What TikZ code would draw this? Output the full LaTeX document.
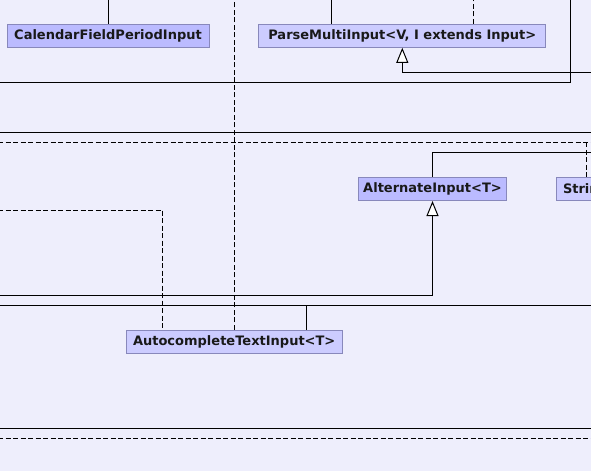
\documentclass[tikz,border=0pt]{standalone}
\usepackage{fontspec}
\setmainfont{DejaVu Sans}
\usetikzlibrary{arrows.meta}
\definecolor{bgc}{RGB}{238,238,252}
\definecolor{boxdark}{RGB}{187,187,255}
\definecolor{boxlight}{RGB}{204,204,255}
\definecolor{boxline}{RGB}{136,136,187}
\tikzset{
  cls/.style={draw=boxline, line width=1pt, minimum height=23pt, inner sep=0pt,
    font=\fontsize{13}{15}\selectfont\bfseries, text=black!90},
  dk/.style={cls, fill=boxdark},
  lt/.style={cls, fill=boxlight},
  conn/.style={line width=1pt, black},
  dconn/.style={line width=1pt, black, dash pattern=on 5pt off 2.5pt},
  inh/.style={conn, -{Triangle[fill=white, length=15pt, width=12pt, line width=1pt]}}
}
\begin{document}
\begin{tikzpicture}[x=1pt,y=-1pt]
\fill[bgc] (0,0) rectangle (591,471);
\useasboundingbox (0,0) rectangle (591,471);
\begin{scope}
\clip (0,0) rectangle (591,471);
% boxes
\node[dk, minimum width=202pt] (cal) at (108,35.8) {CalendarFieldPeriodInput};
\node[lt, minimum width=287pt] (parse) at (402.3,35.8) {ParseMultiInput<V, I extends Input>};
\node[dk, minimum width=148.5pt] (alt) at (432.5,189) {AlternateInput<T>};
\node[lt, minimum width=216pt] (auto) at (234.2,341.8) {AutocompleteTextInput<T>};
\node[lt, minimum width=60pt, anchor=west, text width=50pt, align=left, inner xsep=6.5pt] (str) at (556,189) {Strin};
% coordinates
\coordinate (t108) at (108,0);
\coordinate (t331) at (331.3,0);
\coordinate (t473) at (473.3,0);
\coordinate (t234) at (234.3,0);
\coordinate (t570) at (570.5,0);
\coordinate (l82) at (0,82.3);
\coordinate (r72) at (595,72);
\coordinate (l132) at (-2,132.3);
\coordinate (r132) at (595,132.3);
\coordinate (l142) at (-2,142.3);
\coordinate (r142) at (595,142.3);
\coordinate (c586) at (586.3,142.3);
\coordinate (r152) at (595,152.3);
\coordinate (l210) at (-2,210);
\coordinate (c162) at (162.3,210);
\coordinate (l295) at (-2,295);
\coordinate (l305) at (-2,305.3);
\coordinate (r305) at (595,305.3);
\coordinate (c306) at (306.4,305.3);
\coordinate (l428) at (-2,428);
\coordinate (r428) at (595,428);
\coordinate (l438) at (-2,438);
\coordinate (r438) at (595,438);
% connectors
\draw[conn] (cal.north) -- (t108);
\draw[conn] (parse.north -| t331) -- (t331);
\draw[dconn] (parse.north -| t473) -- (t473);
\draw[dconn] (auto.north -| t234) -- (t234);
\draw[conn] (l82) -| (t570);
\draw[inh] (r72) -| (parse);
\draw[conn] (l132) -- (r132);
\draw[dconn] (l142) -- (r142);
\draw[dconn] (c586) -- (str.north -| c586);
\draw[conn] (r152) -| (alt);
\draw[dconn] (l210) -- (c162) -- (auto.north -| c162);
\draw[inh] (l295) -| (alt);
\draw[conn] (l305) -- (r305);
\draw[conn] (c306) -- (auto.north -| c306);
\draw[conn] (l428) -- (r428);
\draw[dconn] (l438) -- (r438);
\end{scope}
\end{tikzpicture}
\end{document}
